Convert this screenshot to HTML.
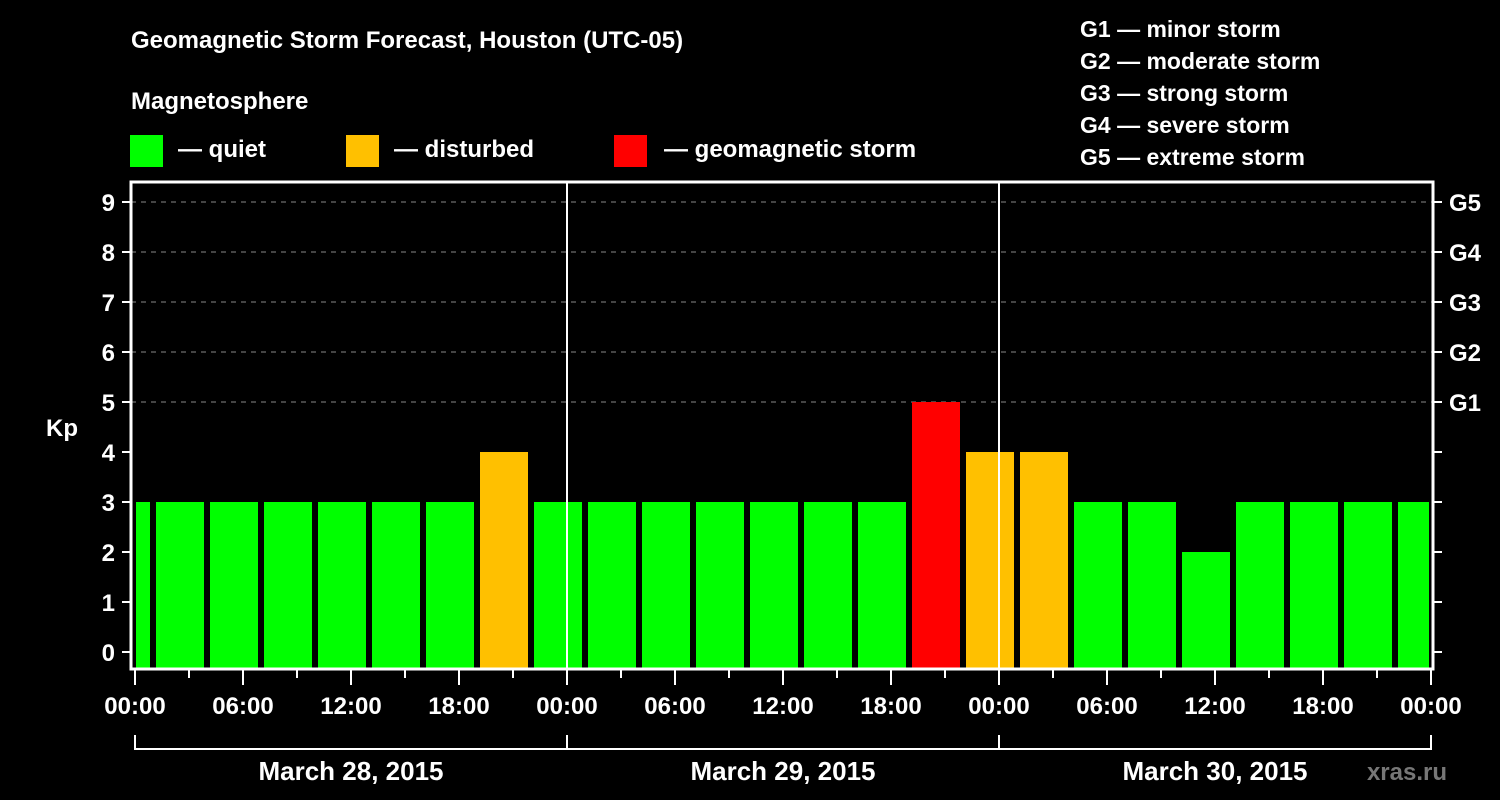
<!DOCTYPE html>
<html><head><meta charset="utf-8"><style>
html,body{margin:0;padding:0;background:#000;}
svg{display:block;font-family:"Liberation Sans",Arial,sans-serif;font-weight:bold;}
</style></head><body>
<svg id="chart" width="1500" height="800" viewBox="0 0 1500 800">
<rect width="1500" height="800" fill="#000"/>
<text x="131" y="48" fill="#fff" font-size="24">Geomagnetic Storm Forecast, Houston (UTC-05)</text>
<text x="131" y="109" fill="#fff" font-size="24">Magnetosphere</text>
<g><rect x="130" y="135" width="33" height="32" fill="#00ff00"/><text x="178" y="157" fill="#fff" font-size="24">— quiet</text></g>
<g><rect x="346" y="135" width="33" height="32" fill="#ffc000"/><text x="394" y="157" fill="#fff" font-size="24">— disturbed</text></g>
<g><rect x="614" y="135" width="33" height="32" fill="#ff0000"/><text x="664" y="157" fill="#fff" font-size="24">— geomagnetic storm</text></g>
<g fill="#fff" font-size="23">
<text x="1080" y="37">G1 — minor storm</text>
<text x="1080" y="69">G2 — moderate storm</text>
<text x="1080" y="101">G3 — strong storm</text>
<text x="1080" y="133">G4 — severe storm</text>
<text x="1080" y="165">G5 — extreme storm</text>
</g>
<text x="62" y="436" fill="#fff" font-size="24" text-anchor="middle">Kp</text>
<text x="1447" y="780" fill="#777" font-size="24" text-anchor="end">xras.ru</text>
<g id="plot"></g>
</svg>
<script>
const kpValues = [3, 3,3,3,3,3,3,4,3, 3,3,3,3,3,3,5,4, 4,3,3,2,3,3,3,3];
const binStartHour = -2;
const binHours = 3;
const yTicks = [0,1,2,3,4,5,6,7,8,9];
const gLabels = ["G1","G2","G3","G4","G5"];
const gLevels = [5,6,7,8,9];
const timeLabels = ["00:00","06:00","12:00","18:00","00:00","06:00","12:00","18:00","00:00","06:00","12:00","18:00","00:00"];
const dateLabels = ["March 28, 2015","March 29, 2015","March 30, 2015"];
const totalHours = 72;

const NS = "http://www.w3.org/2000/svg";
const plot = document.getElementById("plot");
const X0 = 135, PXH = 18, Y0 = 652, PXK = 50, FL = 131, FR = 1433, FT = 182, FB = 669;
const xs = h => X0 + h * PXH;
const ys = k => Y0 - k * PXK;
function mk(tag, attrs, parent) {
  const e = document.createElementNS(NS, tag);
  for (const k in attrs) e.setAttribute(k, attrs[k]);
  (parent || plot).appendChild(e);
  return e;
}
function color(v) { return v >= 5 ? "#ff0000" : v >= 4 ? "#ffc000" : "#00ff00"; }

// grid
gLevels.forEach((k, i) => {
  const l = mk("line", {x1: FL, x2: FR, y1: ys(k), y2: ys(k), stroke: "#888", "stroke-width": 1, "stroke-dasharray": "5,5"});
  
  
  const t = mk("text", {x: 1449, y: ys(k) + 9, fill: "#fff", "font-size": 24});
  t.textContent = gLabels[i];
  
  
});
// bars
kpValues.forEach((v, i) => {
  const hs = binStartHour + i * binHours;
  let x1 = Math.max(xs(hs) + 3, X0 + 1);
  let x2 = Math.min(xs(hs + binHours) - 3, xs(totalHours) - 2);
  const r = mk("rect", {x: x1, y: ys(v), width: x2 - x1, height: FB - ys(v), fill: color(v)});
  
  
});
// day separators
[24, 48].forEach(h => {
  const l = mk("line", {x1: xs(h), x2: xs(h), y1: FT, y2: FB, stroke: "#fff", "stroke-width": 2});
  
  
});
// frame
const fr = mk("rect", {x: FL, y: FT, width: FR - FL, height: FB - FT, fill: "none", stroke: "#fff", "stroke-width": 3});


// y ticks
yTicks.forEach(k => {
  mk("line", {x1: 122, x2: FL, y1: ys(k), y2: ys(k), stroke: "#fff", "stroke-width": 2});
  mk("line", {x1: FR, x2: 1442, y1: ys(k), y2: ys(k), stroke: "#fff", "stroke-width": 2});
  const t = mk("text", {x: 115, y: ys(k) + 9, fill: "#fff", "font-size": 24, "text-anchor": "end"});
  t.textContent = k;
  
  
});
// x ticks
for (let h = 0; h <= totalHours; h += 3) {
  const major = h % 6 === 0;
  mk("line", {x1: xs(h), x2: xs(h), y1: FB, y2: major ? 685 : 678, stroke: "#fff", "stroke-width": 2});
}
timeLabels.forEach((s, i) => {
  const t = mk("text", {x: xs(i * 6), y: 714, fill: "#fff", "font-size": 24, "text-anchor": "middle"});
  t.textContent = s;
  
  
});
// date brackets
mk("line", {x1: xs(0), x2: xs(totalHours), y1: 749, y2: 749, stroke: "#fff", "stroke-width": 2});
for (let d = 0; d <= 3; d++) mk("line", {x1: xs(d * 24), x2: xs(d * 24), y1: 735, y2: 750, stroke: "#fff", "stroke-width": 2});
dateLabels.forEach((s, i) => {
  const t = mk("text", {x: xs(i * 24 + 12), y: 780, fill: "#fff", "font-size": 26, "text-anchor": "middle"});
  t.textContent = s;
  
  
});
</script>
</body></html>
